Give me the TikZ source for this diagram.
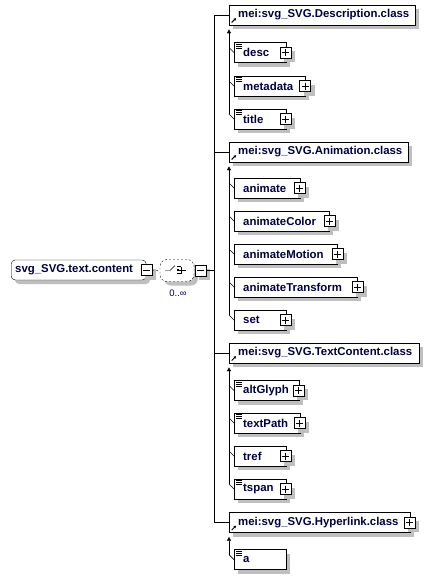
\documentclass[tikz,border=0pt]{standalone}
\usepackage{fontspec}
\setmainfont{Liberation Sans}
\usetikzlibrary{arrows.meta}
\colorlet{txt}{blue!25!black}
\colorlet{shadowc}{black!25}
% element box with its shadow: name, left x, centre y, text width, extra options, text
\newcommand\elbx[6]{%
  \path[fill=shadowc] (#2+4,#3-6) rectangle (#2+#4+22,#3+14);
  \node[elbox=#4pt, #5] (#1) at (#2,#3) {#6};}
% plus / minus box with its shadow: name, x, y, style
\newcommand\pmbx[4]{%
  \path[fill=shadowc] (#2-1.5,#3-1.5) rectangle (#2+9.5,#3+9.5);
  \node[#4] (#1) at (#2,#3) {};}
\tikzset{
  x=1pt, y=-1pt,
  line width=1pt,
  elbox/.style={draw, fill=white, anchor=west, minimum height=20pt,
    inner xsep=9pt, inner ysep=0pt, text width=#1, align=left,
    font=\fontsize{11.4}{13}\selectfont\bfseries, text=txt},
  docicon/.style={path picture={
      \foreach \yy in {1.8pt,3.8pt,5.8pt}
        \draw[line width=0.7pt] ([xshift=2pt,yshift=-\yy]path picture bounding box.north west) -- ++(6pt,0pt);}},
  reficon/.style={path picture={
      \draw[line width=1pt,-{Latex[length=2.6pt,width=3pt]}] ([xshift=2.5pt,yshift=2.5pt]path picture bounding box.south west) -- ++(4.5pt,4.5pt);}},
  pmbox/.style={draw, fill=white, minimum size=11pt, inner sep=0pt},
  plusbox/.style={pmbox, path picture={
      \draw ([xshift=2pt]path picture bounding box.west) -- ([xshift=-2pt]path picture bounding box.east);
      \draw ([yshift=-2pt]path picture bounding box.north) -- ([yshift=2pt]path picture bounding box.south);}},
  minusbox/.style={pmbox, path picture={
      \draw ([xshift=2pt]path picture bounding box.west) -- ([xshift=-2pt]path picture bounding box.east);}},
  uparrow/.style={{Latex[length=4pt,width=4.5pt]}-},
}
\begin{document}
\begin{tikzpicture}
\path[fill=white] (0,0) rectangle (434,579);
\useasboundingbox (0,0) rectangle (434,579);

% root
\path[fill=shadowc, rounded corners=4pt] (15,264) rectangle (150,284);
\node[draw, fill=white, rounded corners=4pt, anchor=west, minimum height=20pt,
  inner xsep=4pt, inner ysep=0pt, text width=127pt, align=left,
  font=\fontsize{11.4}{13}\selectfont\bfseries, text=txt] (root) at (11,270) {\mbox{svg\_SVG.text.content}};
\pmbx{rmin}{146.5}{270}{minusbox}

% compositor
\path[fill=shadowc, rounded corners=7pt] (164,263.5) rectangle (198,285.5);
\node[draw, dashed, dash pattern=on 2pt off 2pt, fill=white, rounded corners=7pt,
  minimum width=34pt, minimum height=22pt, inner sep=0pt] (comp) at (177,270.5) {};
\draw (165,270.5) -- (170,270.5) -- (175,265.5);
\foreach \yy in {266.5,270,273.5} {
  \fill (177,\yy-0.9) rectangle (179,\yy+0.9);
  \draw[line width=0.7pt] (179,\yy) -- (181,\yy);
}
\draw (181,266.5) -- (181,273.5);
\draw (181,270) -- (186,270);
\pmbx{cmin}{200.5}{270.5}{minusbox}
\node[font=\fontsize{9.5}{11}\selectfont, text=txt, inner sep=0pt] (mult) at (178,293) {0..∞};
\draw[dashed, dash pattern=on 2pt off 2pt] (rmin.east) -- (comp.west);

% groups
\elbx{g1}{229}{15}{168}{docicon, reficon}{\mbox{mei:svg\_SVG.Description.class}}
\elbx{g2}{229}{152}{161}{docicon, reficon}{\mbox{mei:svg\_SVG.Animation.class}}
\elbx{g3}{229}{353}{172}{docicon, reficon}{\mbox{mei:svg\_SVG.TextContent.class}}
\elbx{g4}{229}{522.5}{163}{docicon, reficon}{\mbox{mei:svg\_SVG.Hyperlink.class}}
\pmbx{g4p}{409.5}{522.5}{plusbox}

% trunk
\coordinate (trk) at (214,0);
\draw (g1.west) -| (trk |- g4.west) -- (g4.west);
\draw (g2.west) -- (g2.west -| trk);
\draw (g3.west) -- (g3.west -| trk);
\draw (cmin.east) -- (cmin.east -| trk);

% group 1 children
\elbx{desc}{234}{52.5}{34}{docicon}{desc}
\pmbx{descp}{285.5}{52.5}{plusbox}
\elbx{metadata}{234}{86}{53}{docicon}{metadata}
\pmbx{metadatap}{305}{86}{plusbox}
\elbx{title}{234}{119}{34}{docicon}{title}
\pmbx{titlep}{285.5}{119}{plusbox}
\draw[uparrow] ([yshift=-4pt]g1.south west) -- ([shift={(-5,-5)}]title.west);
\foreach \n in {desc,metadata,title} \draw[line width=0.7pt] (\n.west) -- ++(-5,-5);

% group 2 children
\elbx{animate}{234}{188}{48}{}{animate}
\pmbx{animatep}{299.5}{188}{plusbox}
\elbx{animateColor}{234}{221}{77}{}{animateColor}
\pmbx{animateColorp}{329.5}{221}{plusbox}
\elbx{animateMotion}{234}{254}{85}{}{animateMotion}
\pmbx{animateMotionp}{337.5}{254}{plusbox}
\elbx{animateTransform}{234}{287}{105}{}{\mbox{animateTransform}}
\pmbx{animateTransformp}{357.5}{287}{plusbox}
\elbx{set}{234}{320}{34}{}{set}
\pmbx{setp}{285.5}{320}{plusbox}
\draw[uparrow] ([yshift=-4pt]g2.south west) -- ([shift={(-5,-5)}]set.west);
\foreach \n in {animate,animateColor,animateMotion,animateTransform,set} \draw[line width=0.7pt] (\n.west) -- ++(-5,-5);

% group 3 children
\elbx{altGlyph}{234}{390.5}{47}{docicon}{altGlyph}
\pmbx{altGlyphp}{298.5}{390.5}{plusbox}
\elbx{textPath}{234}{423}{48}{docicon}{textPath}
\pmbx{textPathp}{299.5}{423}{plusbox}
\elbx{tref}{234}{456}{34}{}{tref}
\pmbx{trefp}{285.5}{456}{plusbox}
\elbx{tspan}{234}{489}{34}{docicon}{tspan}
\pmbx{tspanp}{285.5}{489}{plusbox}
\draw[uparrow] ([yshift=-4pt]g3.south west) -- ([shift={(-5,-5)}]tspan.west);
\foreach \n in {altGlyph,textPath,tref,tspan} \draw[line width=0.7pt] (\n.west) -- ++(-5,-5);

% group 4 children
\elbx{a}{234}{559.5}{34}{docicon}{a}
\draw[uparrow] ([yshift=-4pt]g4.south west) -- ([shift={(-5,-5)}]a.west);
\draw[line width=0.7pt] (a.west) -- ++(-5,-5);
\end{tikzpicture}
\end{document}
